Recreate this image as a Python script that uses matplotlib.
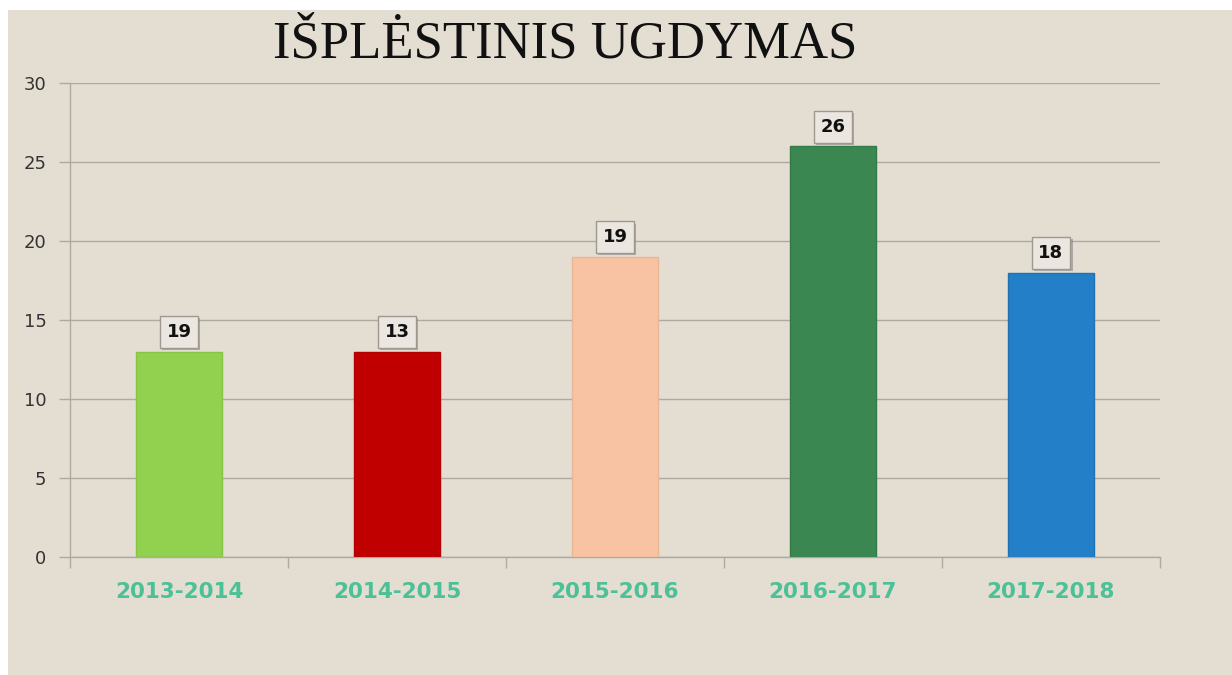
import matplotlib.pyplot as plt
import matplotlib.patheffects as pe
from matplotlib.patches import Rectangle

years = ['2013-2014', '2014-2015', '2015-2016', '2016-2017', '2017-2018']
heights = [13, 13, 19, 26, 18]
labels = ['19', '13', '19', '26', '18']
colors = ['#92d050', '#c00000', '#f7c3a2', '#3b8751', '#2380c8']
edges = ['#86c447', '#b30000', '#eab696', '#337a47', '#1f72b4']

bg = '#e3ddd2'
grid_c = '#aeaaa2'

fig = plt.figure(figsize=(12.32, 6.75), dpi=100, facecolor='white')
fig.add_artist(Rectangle((8 / 1232, 0), 1, 1 - 10 / 675, transform=fig.transFigure,
                         facecolor=bg, edgecolor='none', zorder=-10))

ax = fig.add_axes([70 / 1232, 1 - 557 / 675, 1090 / 1232, 474 / 675])
ax.set_facecolor('none')

x = range(len(years))
bars = ax.bar(x, heights, width=0.395, color=colors, edgecolor=edges, linewidth=1, zorder=3)

ax.set_xlim(-0.5, len(years) - 0.5)
ax.set_ylim(0, 30)
ax.set_yticks(range(0, 31, 5))
ax.yaxis.grid(True, color=grid_c, linewidth=1.0, zorder=0)

for s in ['top', 'right']:
    ax.spines[s].set_visible(False)
for s in ['left', 'bottom']:
    ax.spines[s].set_color(grid_c)
    ax.spines[s].set_linewidth(1.0)

ax.tick_params(axis='y', length=8, width=1.0, color=grid_c, labelsize=13,
               labelcolor='#333333', pad=9)
ax.set_xticks(x)
ax.set_xticklabels(years, fontsize=15.5, fontweight='bold', color='#4cc096')
ax.tick_params(axis='x', length=0, pad=18)
# category boundary ticks below the axis
ax.set_xticks([i - 0.5 for i in range(len(years) + 1)], minor=True)
ax.tick_params(axis='x', which='minor', length=8, width=1.0, color=grid_c, direction='out')

for b, lab in zip(bars, labels):
    t = ax.annotate(lab, (b.get_x() + b.get_width() / 2, b.get_height()),
                    xytext=(0, 14), textcoords='offset points', ha='center', va='center',
                    fontsize=13, fontweight='bold', color='#111111', zorder=5,
                    bbox=dict(boxstyle='square,pad=0.38', facecolor='#ebe7e0',
                              edgecolor='#9d9990', linewidth=1))
    t.get_bbox_patch().set_path_effects([
        pe.withSimplePatchShadow(offset=(1.5, -1.5), shadow_rgbFace='#777777', alpha=0.5)])

fig.text(565 / 1232, 1 - 44 / 675, 'IŠPLĖSTINIS UGDYMAS', ha='center', va='center',
         fontsize=38, family='Liberation Serif', color='#111111')

fig.savefig('out.png', dpi=100, facecolor=fig.get_facecolor())
